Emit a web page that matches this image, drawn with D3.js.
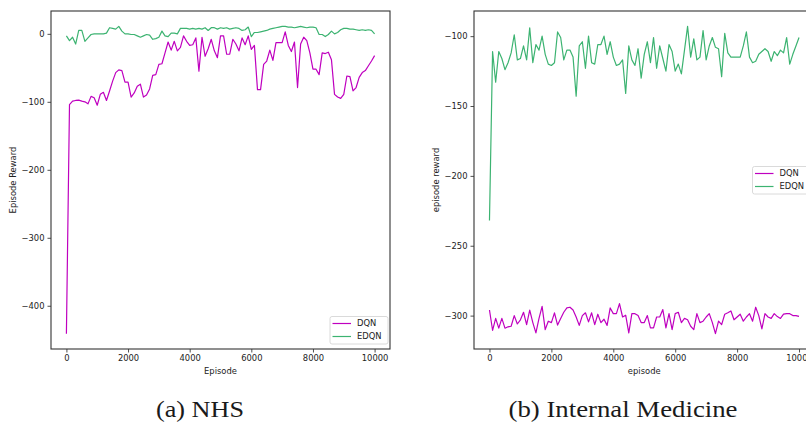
<html>
<head>
    <meta charset="utf-8" />
    <script src="https://cdn.jsdelivr.net/npm/d3@7/dist/d3.min.js"></script>
</head>
<style>
    body { margin: 0; background: #fff; }
    svg { display: block; }
    .tick text { font-family: "DejaVu Sans", sans-serif; font-size: 8.4px; fill: #222; }
    .tick line { stroke: #222; stroke-width: 0.8px; }
    .domain { display: none; }
    .lbl { font-family: "DejaVu Sans", sans-serif; font-size: 8.4px; fill: #222; }
    .cap { font-family: "Liberation Serif", "Times New Roman", serif; font-size: 23px; fill: #1a1a1a; }
</style>
<body>
<svg id="chart" width="806" height="423"></svg>
<script>
    // episodes logged every 100 steps
    var episodes = d3.range(0, 10001, 100);

    // (a) NHS
    var nhsDqn = [
        -441, -104, -99, -98, -97.5, -99, -100, -103, -92, -94,
        -105, -89, -86, -98, -84, -69.5, -57, -53, -54, -71,
        -71, -93, -87, -77, -74, -93, -90, -81, -61, -60,
        -45, -44, -28, -12, -24, -11, -25, -20, -3, -11,
        -17, -16, -6, -55, -5, -33, -22, -8, -25, -35,
        -3, -3, -30, -30, -8, -15, -25, -6, -16, -3,
        -23, -17, -82, -82, -45, -40, -24, -39, -13, -13,
        -13, 3, -17, -26, -12, -79, -15, -5, -10, -28,
        -52, -52, -60, -28, -29, -27, -38, -89, -93, -95,
        -89, -62, -63, -84, -79, -64, -57, -54, -47, -40,
        -32
    ];
    var nhsEdqn = [
        -3, -10, -5, -15, 5, 5, -11, -6, -1, 0,
        0, 0, 0, 1, 9, 8, 7, 11, 4, 0,
        0, -1, -1, -3, -5, -3, -1, -2, -8, -7,
        -5, 4, -3, -4, 1, 1, 0, 8, 8, 8,
        7, 8, 7, 8, 7, 9, 5, 9, 9, 7,
        9, 8, 9, 7, 8, 9, 8, 5, 6, 10,
        -4, 2, 2, 3, 4, 5, 7, 8, 9, 10,
        11, 11, 10, 10, 9, 10, 11, 10, 9, 10,
        10, 9, -1, -1, -4, -1, 4, 0, 2, 6,
        8, 8, 7, 7, 6, 5, 6, 5, 6, 5,
        0
    ];

    // (b) Internal Medicine
    var imDqn = [
        -296, -310.5, -302, -309, -302, -309, -308, -307.6, -300, -306,
        -303, -297.6, -306.5, -296, -305, -312.4, -302, -293.4, -310, -304,
        -305, -298, -306.8, -302, -297.6, -294.5, -294, -296, -301, -307,
        -300, -298, -304.5, -298, -306.5, -299, -305, -302.6, -307, -294.5,
        -298.6, -298.6, -291.4, -301, -299.7, -312.4, -298.6, -298.6, -300, -305,
        -305, -300, -308.8, -308.8, -301, -301, -295.7, -308.8, -298.6, -310,
        -298.6, -297.6, -305, -302, -303, -307.6, -310, -298.6, -305, -304,
        -301, -298.6, -305, -312.9, -304, -306.5, -299, -298, -296.7, -303,
        -301, -299, -304, -301, -298.6, -304, -294, -300, -309.5, -298.6,
        -301, -302, -298.6, -300.7, -302, -299, -298.6, -298.6, -300, -300,
        -300.5
    ];
    var imEdqn = [
        -232, -111, -133, -111, -116, -124, -119, -112, -99, -117,
        -116, -107, -117, -94, -119, -106, -110, -100, -113, -120,
        -121, -119, -97, -101, -117, -110, -110, -115, -143, -107,
        -104, -123, -100, -119, -120, -106, -106, -100, -113, -104,
        -115, -121, -120, -117, -141, -107, -117, -121, -109, -130,
        -113, -104, -119, -101, -123, -107, -116, -125, -106, -111,
        -125, -120, -127, -110, -93, -115, -102, -117, -115, -96,
        -117, -107, -101, -108, -109, -129, -98, -112, -115, -115,
        -115, -115, -107, -97, -115, -119, -118, -113, -111, -109,
        -111, -118, -111, -114, -110, -112, -101, -120, -113, -107,
        -101
    ];

    var xTicks = [0, 2000, 4000, 6000, 8000, 10000];
    var seriesNames = ["DQN", "EDQN"];
    var colors = ["#bf00bf", "#3cb371"];

    var svg = d3.select("#chart");

    function panel(o) {
        var all = o.series[0].concat(o.series[1]);
        var lo = d3.min(all), hi = d3.max(all), pad = (hi - lo) * 0.05;

        var x = d3.scaleLinear().domain([-500, 10500]).range([o.left, o.right]);
        var y = d3.scaleLinear().domain([lo - pad, hi + pad]).range([o.bottom, o.top]);

        var g = svg.append("g");

        g.append("g")
            .attr("transform", "translate(0," + o.bottom + ")")
            .call(d3.axisBottom(x).tickValues(xTicks).tickFormat(d3.format("d")).tickSize(3.5).tickPadding(3));
        g.append("g")
            .attr("transform", "translate(" + o.left + ",0)")
            .call(d3.axisLeft(y).tickValues(o.yTicks).tickFormat(d3.format("d")).tickSize(3.5).tickPadding(3));

        var line = d3.line()
            .x(function(d, i) { return x(episodes[i]); })
            .y(function(d) { return y(d); });

        o.series.forEach(function(s, k) {
            g.append("path")
                .datum(s)
                .attr("d", line)
                .attr("fill", "none")
                .attr("stroke", colors[k])
                .attr("stroke-width", 1.2)
                .attr("stroke-linejoin", "round");
        });

        // spines
        g.append("rect")
            .attr("x", o.left).attr("y", o.top)
            .attr("width", o.right - o.left).attr("height", o.bottom - o.top)
            .attr("fill", "none").attr("stroke", "#333").attr("stroke-width", 1.1);

        g.append("text").attr("class", "lbl")
            .attr("x", (o.left + o.right) / 2).attr("y", o.bottom + 24.5)
            .attr("text-anchor", "middle").text(o.xLabel);
        g.append("text").attr("class", "lbl")
            .attr("transform", "translate(" + o.yLabelX + "," + ((o.top + o.bottom) / 2) + ") rotate(-90)")
            .attr("text-anchor", "middle").text(o.yLabel);

        // legend
        var lg = g.append("g").attr("transform", "translate(" + o.legend[0] + "," + o.legend[1] + ")");
        lg.append("rect").attr("width", 58).attr("height", 27.5).attr("rx", 2)
            .attr("fill", "#fff").attr("fill-opacity", 0.8).attr("stroke", "#d0d0d0").attr("stroke-width", 0.8);
        seriesNames.forEach(function(n, k) {
            var yy = 7 + k * 13;
            lg.append("line").attr("x1", 2.5).attr("x2", 21).attr("y1", yy).attr("y2", yy)
                .attr("stroke", colors[k]).attr("stroke-width", 1.2);
            lg.append("text").attr("class", "lbl").attr("x", 27).attr("y", yy).attr("dy", "0.35em").text(n);
        });

        svg.append("text").attr("class", "cap")
            .attr("x", o.capX).attr("y", 417)
            .attr("text-anchor", "middle")
            .attr("textLength", o.capW).attr("lengthAdjust", "spacingAndGlyphs")
            .text(o.caption);
    }

    panel({
        left: 51, right: 390, top: 11, bottom: 349,
        series: [nhsDqn, nhsEdqn],
        yTicks: [0, -100, -200, -300, -400],
        xLabel: "Episode", yLabel: "Episode Reward", yLabelX: 15.5,
        legend: [330, 316.5],
        caption: "(a) NHS", capX: 200, capW: 88
    });

    panel({
        left: 474, right: 814.5, top: 11, bottom: 349,
        series: [imDqn, imEdqn],
        yTicks: [-100, -150, -200, -250, -300],
        xLabel: "episode", yLabel: "episode reward", yLabelX: 439,
        legend: [752.5, 166.5],
        caption: "(b) Internal Medicine", capX: 623, capW: 229
    });
</script>
</body>
</html>
